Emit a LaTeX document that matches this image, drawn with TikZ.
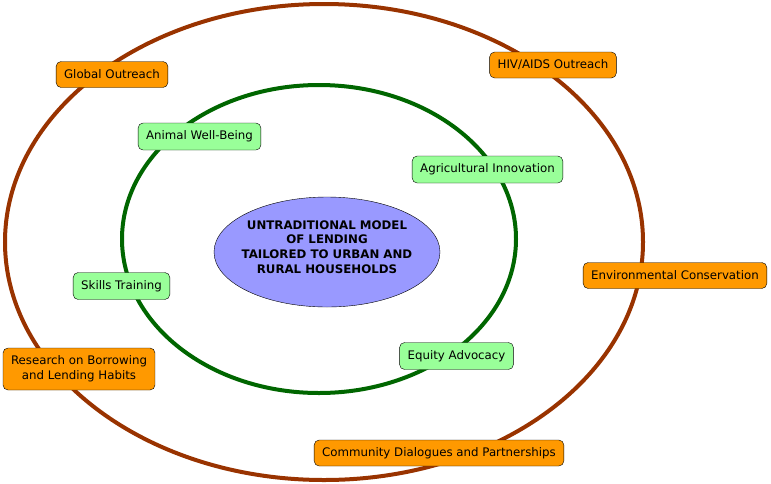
\documentclass[tikz,border=0pt]{standalone}
\usepackage{fontspec}
\setmainfont{DejaVu Sans}
\definecolor{ringbrown}{HTML}{993300}
\definecolor{ringgreen}{HTML}{006600}
\definecolor{boxorange}{HTML}{FF9900}
\definecolor{boxgreen}{HTML}{99FF99}
\definecolor{corefill}{HTML}{9999FF}
\begin{document}
\begin{tikzpicture}[x=1pt,y=-1pt,
		outer/.style={draw,rounded corners=5pt,fill=boxorange,font=\fontsize{11.8}{15}\selectfont,inner xsep=8pt,minimum height=26pt,align=center},
		inner/.style={draw,rounded corners=5pt,fill=boxgreen,font=\fontsize{11.8}{15}\selectfont,inner xsep=8pt,minimum height=27pt,align=center}]
		\useasboundingbox (0,0) rectangle (771,483);
		\draw[ringbrown,line width=4pt] (324,242) ellipse [x radius=319,y radius=238];
		\draw[ringgreen,line width=4pt] (319,239) ellipse [x radius=197,y radius=154];
		\draw[fill=corefill] (327,252) ellipse [x radius=113,y radius=55];
		\node[font=\bfseries\fontsize{11.8}{14.7}\selectfont,align=center] (core) at (327,247) {UNTRADITIONAL MODEL\\OF LENDING\\TAILORED TO URBAN AND\\RURAL HOUSEHOLDS};
		\node[outer] (glob) at (112,74.5) {Global Outreach};
		\node[outer] (hiv) at (553,65) {HIV/AIDS Outreach};
		\node[outer] (env) at (675,275.5) {Environmental Conservation};
		\node[outer,minimum height=42pt] (res) at (79,369) {Research on Borrowing\\and Lending Habits};
		\node[outer] (comm) at (439,453) {Community Dialogues and Partnerships};
		\node[inner] (anim) at (199.5,136.5) {Animal Well-Being};
		\node[inner] (agri) at (487.5,169.5) {Agricultural Innovation};
		\node[inner] (skill) at (121.5,286) {Skills Training};
		\node[inner] (eq) at (456.5,356) {Equity Advocacy};
	\end{tikzpicture}
\end{document}
